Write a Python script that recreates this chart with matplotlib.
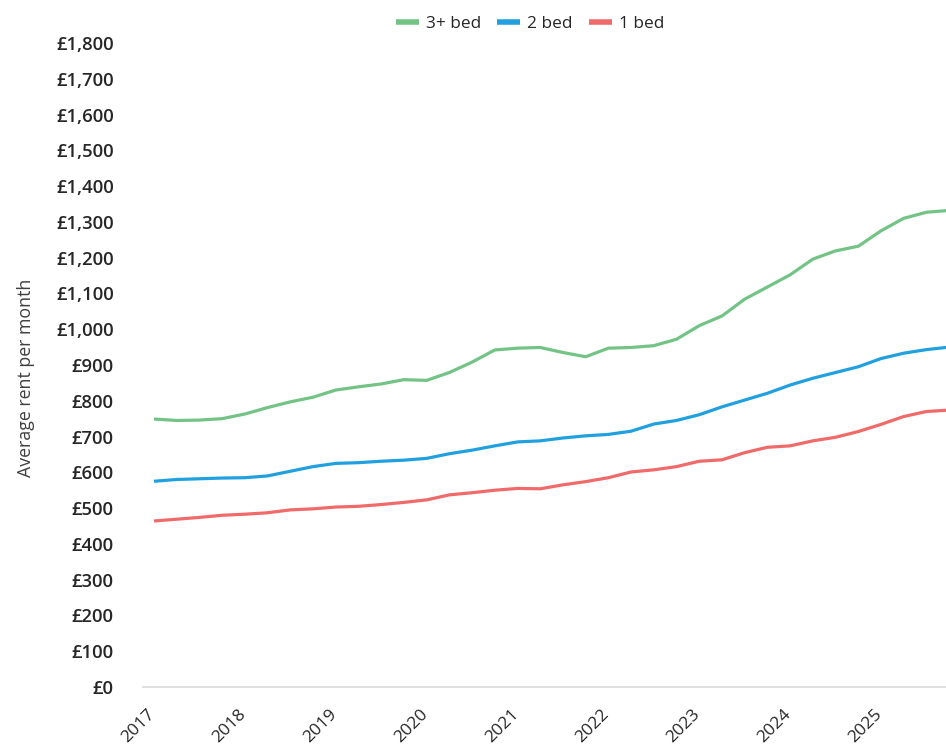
import matplotlib
matplotlib.use("Agg")
import matplotlib.pyplot as plt
import matplotlib.transforms as mtransforms
from matplotlib.ticker import FuncFormatter

# Quarterly data, Q1 2017 .. Q4 2025
bed3 = [749, 745, 746, 750, 763, 781, 797, 810, 830, 839, 847, 859, 857, 879, 908, 942,
        947, 949, 935, 923, 947, 949, 954, 972, 1010, 1037, 1084, 1118, 1152, 1196, 1219,
        1232, 1275, 1310, 1327, 1332]
bed2 = [575, 580, 582, 584, 585, 590, 603, 616, 625, 627, 631, 634, 639, 652, 662, 674,
        685, 688, 696, 702, 706, 715, 735, 745, 761, 783, 802, 821, 844, 863, 879,
        895, 918, 933, 943, 950]
bed1 = [464, 469, 474, 480, 483, 487, 495, 498, 503, 505, 510, 516, 523, 537, 543, 550,
        555, 554, 565, 574, 585, 601, 607, 616, 631, 635, 655, 670, 674, 688, 698,
        714, 734, 756, 770, 774]
year_labels = ["2017", "2018", "2019", "2020", "2021", "2022", "2023", "2024", "2025"]
series_names = ["3+ bed", "2 bed", "1 bed"]
colors = ["#73c386", "#21a0df", "#f06a6a"]

plt.rcParams['font.family'] = ['Open Sans', 'DejaVu Sans']

W, H = 946, 755
fig = plt.figure(figsize=(W / 100, H / 100), dpi=100)
left, right, bottom, top = 143, 946, 687, 43
ax = fig.add_axes([left / W, (H - bottom) / H, (right - left) / W, (bottom - top) / H])

x = list(range(len(bed3)))
for data, name, c in zip([bed3, bed2, bed1], series_names, colors):
    ax.plot(x, data, color=c, lw=2.3, label=name, solid_capstyle='butt')

x0 = 154.0
step = (881.0 - 154.0) / 32
ax.set_xlim((left - x0) / step, (right - x0) / step)
ax.set_ylim(0, 1800)
ax.set_yticks(range(0, 1801, 100))
ax.yaxis.set_major_formatter(FuncFormatter(lambda v, p: f"£{int(v):,}"))
ax.set_xticks(range(0, 4 * len(year_labels), 4))
ax.set_xticklabels(year_labels, rotation=45, ha='right', rotation_mode='anchor',
                   fontsize=12.5, color='#262626')

for s in ['top', 'right', 'left']:
    ax.spines[s].set_visible(False)
ax.spines['bottom'].set_color('#d9d9d9')
ax.spines['bottom'].set_linewidth(1.2)
ax.tick_params(axis='y', length=0, pad=21, labelsize=13.3, labelcolor='#262626')
ax.tick_params(axis='x', length=0, pad=10)
for t in ax.get_yticklabels():
    t.set_fontweight('semibold')

offset = mtransforms.ScaledTranslation(-0.07, -0.05, fig.dpi_scale_trans)
for t in ax.get_xticklabels():
    t.set_transform(t.get_transform() + offset)

fig.text(26 / W, (H - 378) / H, "Average rent per month", rotation=90,
         ha='center', va='center', fontsize=12.8, color='#404040')

handles, labels = ax.get_legend_handles_labels()
leg = fig.legend(handles, labels, loc='center', bbox_to_anchor=(530 / W, 1 - 24 / H),
                 ncol=3, frameon=False, fontsize=12.4, handlelength=1.34,
                 handletextpad=0.4, columnspacing=0.93)
for lh in leg.get_lines():
    lh.set_linewidth(4)
for t in leg.get_texts():
    t.set_color('#262626')

fig.savefig("out.png", dpi=100)
